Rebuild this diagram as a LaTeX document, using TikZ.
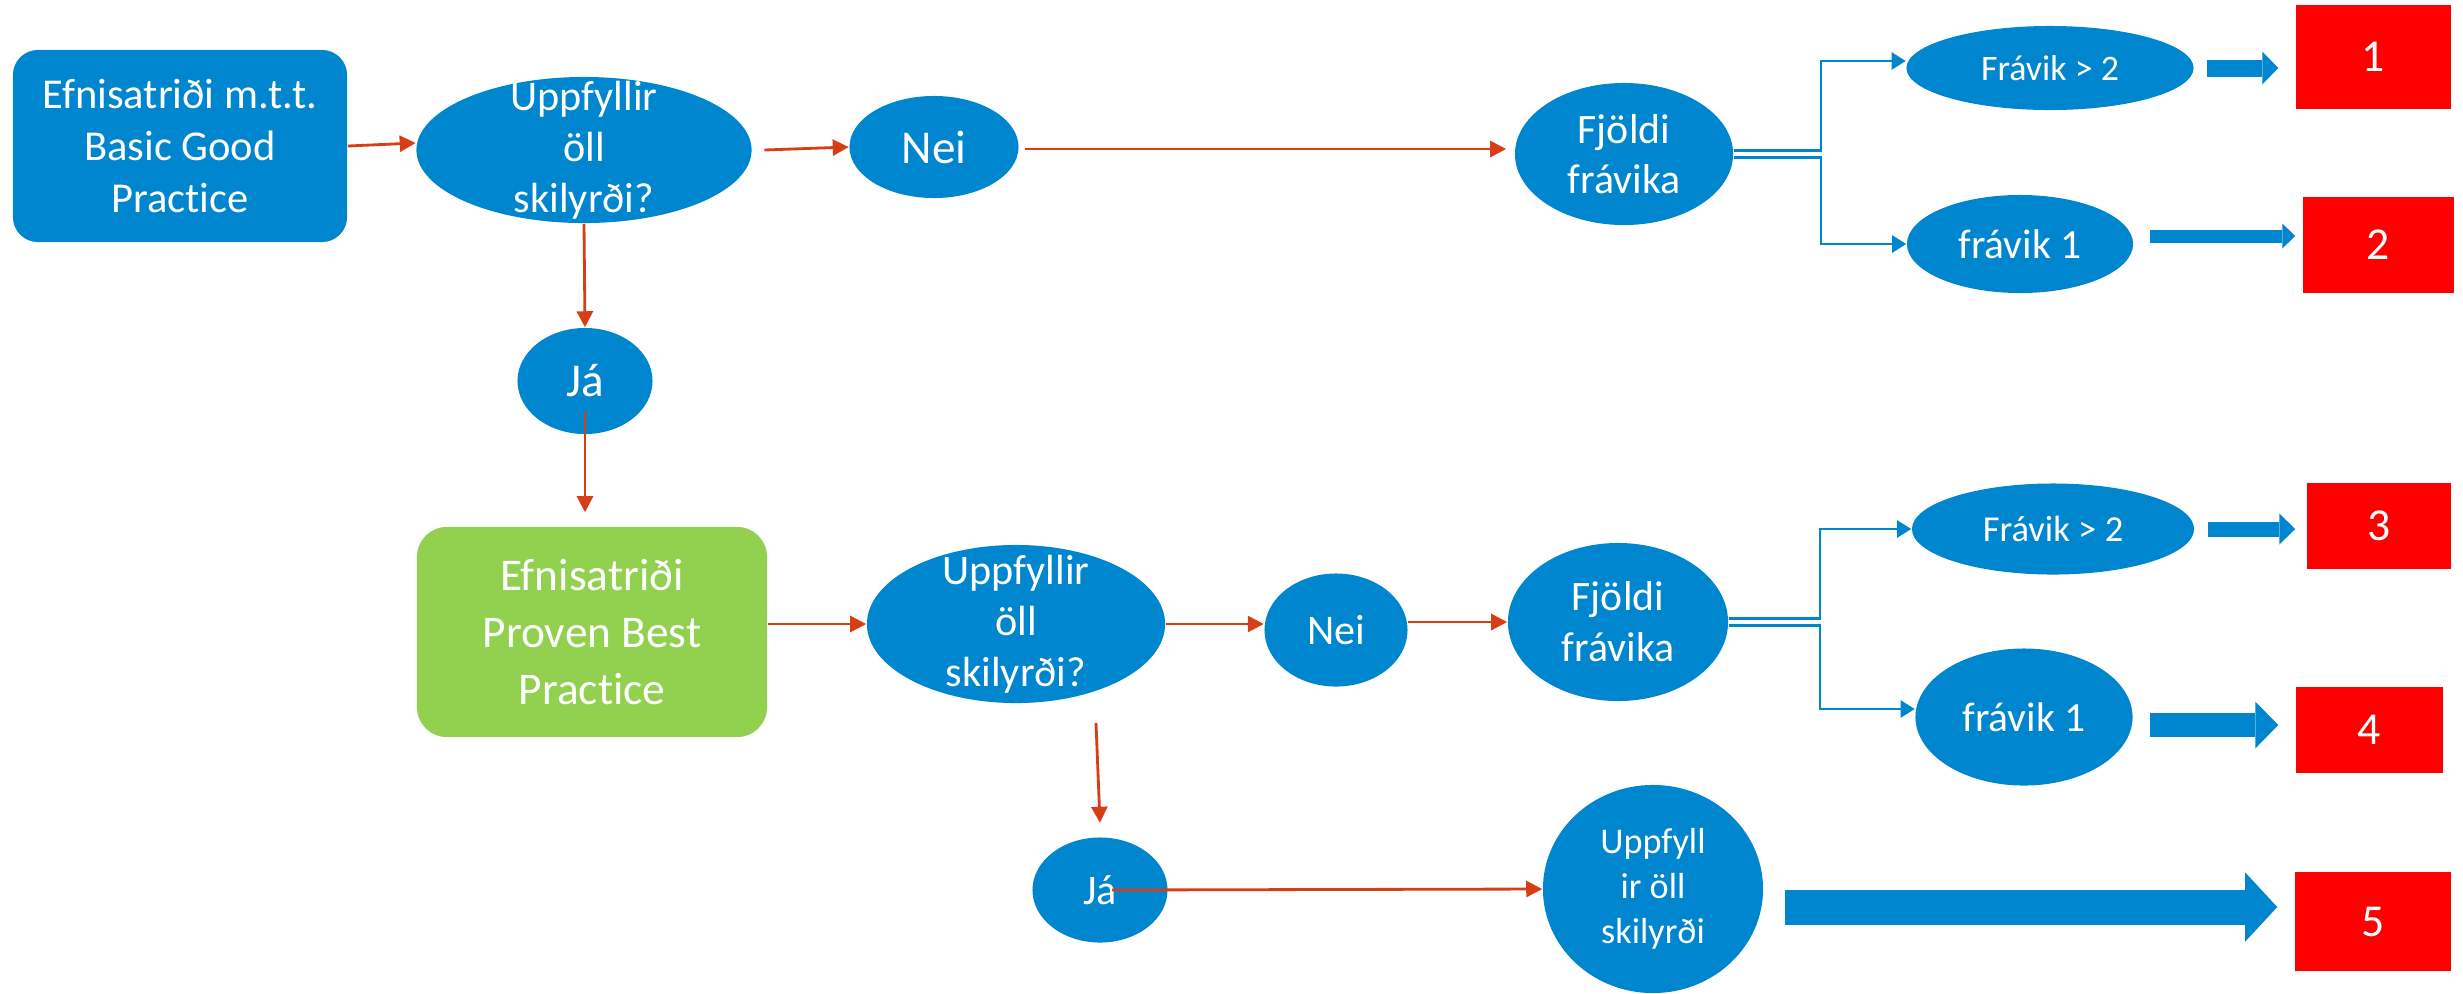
\documentclass[tikz,border=0pt]{standalone}
\usepackage{fontspec}
\setmainfont{Carlito}[Ligatures=NoCommon]
\usetikzlibrary{shapes.geometric,arrows.meta,positioning}

\definecolor{nblue}{RGB}{0,133,207}
\definecolor{ared}{RGB}{216,62,22}
\definecolor{bgreen}{RGB}{146,208,80}
\definecolor{bred}{RGB}{255,0,0}
\newcommand{\sz}[2]{\fontsize{#1}{#2}\selectfont}

\tikzset{
  oval/.style={ellipse, fill=nblue, inner sep=0pt},
  txt/.style={text=white, align=center, inner sep=0pt},
  flow/.style={draw=ared, line width=0.8pt, -{Triangle[length=0.16cm,width=0.16cm]}},
  branch/.style={draw=nblue, line width=0.6pt, -{Triangle[length=0.14cm,width=0.17cm]}},
  fat/.style n args={3}{draw=nblue, line width=#1, -{Triangle[length=#3,width=#2,line width=0pt]}},
  result/.style={fill=bred, text=white, inner sep=0pt, font=\sz{13}{15}},
}

\begin{document}
\begin{tikzpicture}[x=0.01cm, y=-0.01cm]
    \useasboundingbox (0,0) rectangle (2463,993);

    % Basic Good Practice
    \node[fill=nblue, rounded corners=0.25cm, minimum width=3.34cm, minimum height=1.92cm,
          txt, font=\sz{12.1}{14.8}] (box1) at (180,146) {Efnisatriði m.t.t.\\Basic Good\\Practice};
    \node[oval, minimum width=3.35cm, minimum height=1.46cm,
          label={[txt, font=\sz{12}{14.5}]center:Uppfyllir\\öll\\skilyrði?}] (u1) at (584,150) {};
    \node[oval, minimum width=1.69cm, minimum height=1.02cm,
          label={[txt, font=\sz{13.4}{15}]center:Nei}] (nei1) at (934,147) {};
    \node[oval, minimum width=2.18cm, minimum height=1.42cm,
          label={[txt, font=\sz{11.9}{14.3}]center:Fjöldi\\frávika}] (f1) at (1624,154) {};
    \node[oval, minimum width=2.87cm, minimum height=0.84cm,
          label={[txt, font=\sz{10.2}{12}]center:Frávik > 2}] (fa1) at (2050,68) {};
    \node[oval, minimum width=2.26cm, minimum height=0.98cm,
          label={[txt, font=\sz{11.8}{13}]center:frávik 1}] (fr1) at (2020,244) {};
    \node[oval, minimum width=1.35cm, minimum height=1.06cm,
          label={[txt, font=\sz{13.4}{15}]center:Já}] (ja1) at (585,381) {};

    % Proven Best Practice
    \node[fill=bgreen, rounded corners=0.3cm, minimum width=3.5cm, minimum height=2.1cm,
          txt, font=\sz{12.9}{16.2}] (green) at (592,632) {Efnisatriði\\Proven Best\\Practice};
    \node[oval, minimum width=2.98cm, minimum height=1.58cm,
          label={[txt, font=\sz{12}{14.5}]center:Uppfyllir\\öll\\skilyrði?}] (u2) at (1016,624) {};
    \node[oval, minimum width=1.43cm, minimum height=1.13cm,
          label={[txt, font=\sz{12}{14}]center:Nei}] (nei2) at (1336,630) {};
    \node[oval, minimum width=2.2cm, minimum height=1.58cm,
          label={[txt, font=\sz{11.9}{14.5}]center:Fjöldi\\frávika}] (f2) at (1618,622) {};
    \node[oval, minimum width=2.82cm, minimum height=0.91cm,
          label={[txt, font=\sz{10.4}{12}]center:Frávik > 2}] (fa2) at (2053,529) {};
    \node[oval, minimum width=2.17cm, minimum height=1.37cm,
          label={[txt, font=\sz{11.8}{13}]center:frávik 1}] (fr2) at (2024,717) {};
    \node[oval, minimum width=1.35cm, minimum height=1.05cm,
          label={[txt, font=\sz{12}{14}]center:Já}] (ja2) at (1100,890) {};
    \node[oval, minimum width=2.2cm, minimum height=2.08cm,
          label={[txt, font=\sz{10.3}{12.8}]center:Uppfyll\\ir öll\\skilyrði}] (u3) at (1653,889) {};

    % Results
    \node[result, minimum width=1.55cm, minimum height=1.04cm] (r1) at (2373.5,57) {1};
    \node[result, minimum width=1.51cm, minimum height=0.96cm] (r2) at (2378.5,245) {2};
    \node[result, minimum width=1.44cm, minimum height=0.86cm] (r3) at (2379,526) {3};
    \node[result, minimum width=1.47cm, minimum height=0.86cm] (r4) at (2369.5,730) {4};
    \node[result, minimum width=1.56cm, minimum height=0.99cm] (r5) at (2373,921.5) {5};

    % Flow
    \draw[flow] (box1.east) -- ([yshift=0.07cm]u1.west);
    \draw[flow] ([xshift=0.12cm]u1.east) -- (nei1.west);
    \draw[flow] ([shift={(0.06cm,-0.02cm)}]nei1.east) -- ([shift={(-0.08cm,-0.02cm)}]nei1.east -| f1.west);
    \draw[flow] (u1.south) -- (ja1.north);
    \draw[flow] ([yshift=-0.31cm]ja1.center) -- ([yshift=0.14cm]ja1.center |- green.north);
    \draw[flow] (green.east |- u2.west) -- (u2.west);
    \draw[flow] (u2.east) -- (u2.east -| nei2.west);
    \draw[flow] (nei2.east |- f2.west) -- (f2.west);
    \coordinate (drop) at (1096,723);
    \draw[flow] (drop) -- ([yshift=0.14cm]ja2.north);
    \draw[flow] ([xshift=0.12cm]ja2.center) -- (u3.west);

    % Branches
    \coordinate (j1) at (1821,154);
    \coordinate (j2) at (1820,622);
    \draw[branch] ([yshift=0.035cm]f1.east) -- ([yshift=0.035cm]f1.east -| j1) |- ([yshift=0.07cm]fa1.west);
    \draw[branch] ([yshift=-0.035cm]f1.east) -- ([yshift=-0.035cm]f1.east -| j1) |- (fr1.west);
    \draw[branch] ([yshift=0.035cm]f2.east) -- ([yshift=0.035cm]f2.east -| j2) |- (fa2.west);
    \draw[branch] ([yshift=-0.035cm]f2.east) -- ([yshift=-0.035cm]f2.east -| j2) |- ([yshift=0.08cm]fr2.west);

    % Block arrows
    \draw[fat={0.17cm}{0.33cm}{0.16cm}] ([xshift=0.13cm]fa1.east) -- ([xshift=-0.17cm]fa1.east -| r1.west);
    \draw[fat={0.13cm}{0.25cm}{0.13cm}] ([shift={(0.16cm,0.08cm)}]fr1.east) -- ([shift={(-0.07cm,0.08cm)}]fr1.east -| r2.west);
    \draw[fat={0.15cm}{0.31cm}{0.16cm}] ([xshift=0.13cm]fa2.east) -- ([xshift=-0.11cm]fa2.east -| r3.west);
    \draw[fat={0.24cm}{0.47cm}{0.23cm}] ([shift={(0.17cm,-0.08cm)}]fr2.east) -- ([shift={(-0.17cm,-0.08cm)}]fr2.east -| r4.west);
    \draw[fat={0.35cm}{0.69cm}{0.32cm}] ([shift={(0.21cm,-0.18cm)}]u3.east) -- ([shift={(-0.17cm,-0.18cm)}]u3.east -| r5.west);

\end{tikzpicture}
\end{document}
